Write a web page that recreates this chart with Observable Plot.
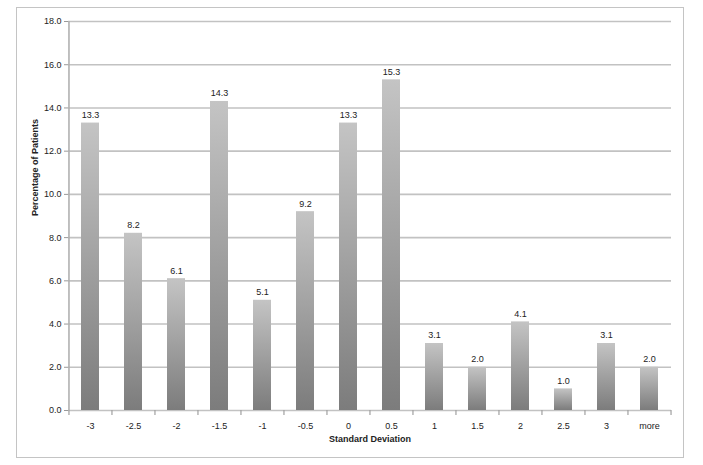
<!DOCTYPE html>
<html><head><meta charset="utf-8">
<script src="https://cdn.jsdelivr.net/npm/d3@7"></script>
<script src="https://cdn.jsdelivr.net/npm/@observablehq/plot@0.6"></script>
<style>body{margin:0;background:#fff;} svg{display:block;}</style>
</head><body><div id="chart"></div>
<script>
const categories = ["-3","-2.5","-2","-1.5","-1","-0.5","0","0.5","1","1.5","2","2.5","3","more"];
const values = [13.3, 8.2, 6.1, 14.3, 5.1, 9.2, 13.3, 15.3, 3.1, 2.0, 4.1, 1.0, 3.1, 2.0];
const yTicks = [0,2,4,6,8,10,12,14,16,18];
const data = categories.map((c,i)=>({cat:c, value:values[i]}));

const W = 703, H = 465, mL = 68, mR = 32, mT = 21, mB = 55;
const half = (W - mL - mR) / categories.length / 2;
const font = "'Liberation Sans', Arial, sans-serif";

const chart = Plot.plot({
  width: W, height: H,
  marginLeft: mL, marginRight: mR, marginTop: mT, marginBottom: mB,
  style: {fontFamily: font, fontSize: "9px", color: "#222", background: "#fff"},
  x: {domain: categories, paddingInner: 0.58, paddingOuter: 0.29, label: null},
  y: {domain: [0, 18], label: null},
  marks: [
    () => {
      const s = d3.create("svg:defs");
      const g = s.append("linearGradient").attr("id","barg").attr("x1",0).attr("y1",0).attr("x2",0).attr("y2",1);
      g.append("stop").attr("offset","0%").attr("stop-color","#c4c4c4");
      g.append("stop").attr("offset","100%").attr("stop-color","#7c7c7c");
      return s.node();
    },
    Plot.frame({stroke:"#c4c4c4", insetLeft:-52, insetTop:-14, insetRight:-12, insetBottom:-47}),
    Plot.ruleY(yTicks, {y: d=>d, stroke:"#c2c2c2", strokeWidth:1.6}),
    Plot.ruleX([categories[0]], {x: d=>d, dx: -half, y1: 0, y2: 18, stroke:"#b0b0b0", strokeWidth:1.6}),
    Plot.ruleX(categories, {x: d=>d, dx: -half, y1: 0, y2: 0, insetBottom: -5, stroke:"#a0a0a0", strokeWidth:1.2}),
    Plot.ruleX([categories[categories.length-1]], {x: d=>d, dx: half, y1: 0, y2: 0, insetBottom: -5, stroke:"#a0a0a0", strokeWidth:1.2}),
    Plot.barY(data, {x:"cat", y:"value", fill:"url(#barg)"}),
    Plot.text(data, {x:"cat", y:"value", text: d=>d.value.toFixed(1), dy:-8, fill:"#222", fontSize:9}),
    Plot.axisY({ticks: yTicks, tickFormat: d=>d.toFixed(1), tickSize: 4, stroke:"#999", tickPadding: 3, label: null}),
    Plot.axisX({tickSize: 0, tickPadding: 12, label: null}),
    Plot.text(["Standard Deviation"], {frameAnchor:"bottom", dy: 31, fontSize: 9, fontWeight: "bold", fill:"#222"}),
    Plot.text(["Percentage of Patients"], {frameAnchor:"left", dx: -33, rotate: -90, fontSize: 9, fontWeight: "bold", fill:"#222"})
  ]
});
document.getElementById("chart").appendChild(chart);
</script></body></html>
